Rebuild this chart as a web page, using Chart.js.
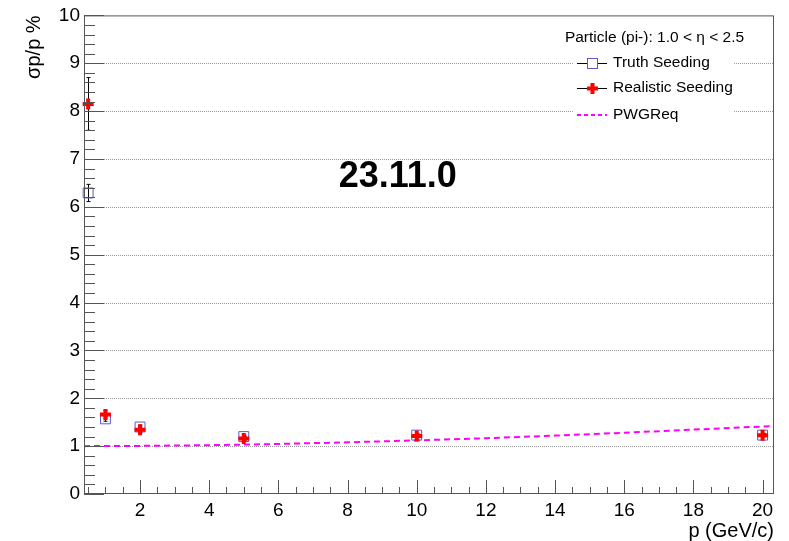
<!DOCTYPE html>
<html>
<head>
<meta charset="utf-8">
<script src="https://cdn.jsdelivr.net/npm/chart.js@4.4.1/dist/chart.umd.min.js"></script>
<style>
html, body { margin: 0; padding: 0; background: #fff; }
#wrap { width: 789px; height: 541px; }
</style>
</head>
<body>
<div id="wrap"><canvas id="canvas" width="789" height="541"></canvas></div>
<script>
// momentum points (GeV/c)
var momentum = [0.5, 1, 2, 5, 10, 20];
// Truth Seeding resolution (%) and errors
var truthRes = [6.29, 1.57, 1.40, 1.20, 1.23, 1.23];
var truthErr = [0.18, 0.05, 0.04, 0.03, 0.03, 0.03];
// Realistic Seeding resolution (%) and errors
var realRes = [8.15, 1.66, 1.34, 1.16, 1.21, 1.23];
var realErr = [0.55, 0.08, 0.06, 0.04, 0.04, 0.04];
// PWG requirement curve
var reqP = [0.38, 2, 4, 6, 8, 10, 12, 14, 16, 18, 20, 20.33];
var reqRes = [1.0, 1.005, 1.02, 1.045, 1.08, 1.12, 1.165, 1.22, 1.28, 1.345, 1.41, 1.42];
// tick labels
var xTicks = [2, 4, 6, 8, 10, 12, 14, 16, 18, 20];
var yTicks = [0, 1, 2, 3, 4, 5, 6, 7, 8, 9, 10];

var FONT = "'Liberation Sans', Arial, sans-serif";
var truthColor = '#5a5acd';
var realColor = '#ff0000';
var reqColor = '#ff00ff';

function pts(xs, ys) {
  var out = [];
  for (var i = 0; i < xs.length; i++) out.push({ x: xs[i], y: ys[i] });
  return out;
}

// ROOT-like frame, ticks, grid, error bars, legend and texts
var rootStyle = {
  id: 'rootStyle',
  beforeDatasetsDraw: function (chart) {
    var ctx = chart.ctx, a = chart.chartArea;
    var xs = chart.scales.x, ys = chart.scales.y;
    ctx.save();
    // dotted horizontal grid
    ctx.strokeStyle = '#999';
    ctx.lineWidth = 1;
    ctx.setLineDash([1, 1]);
    for (var i = 1; i < yTicks.length - 1; i++) {
      var py = Math.round(ys.getPixelForValue(yTicks[i])) + 0.5;
      ctx.beginPath();
      ctx.moveTo(a.left, py);
      ctx.lineTo(a.right, py);
      ctx.stroke();
    }
    ctx.setLineDash([]);
    // error bars
    ctx.strokeStyle = '#000';
    function bars(vals, errs) {
      for (var k = 0; k < momentum.length; k++) {
        var px = Math.round(xs.getPixelForValue(momentum[k])) + 0.5;
        var top = ys.getPixelForValue(vals[k] + errs[k]);
        var bot = ys.getPixelForValue(vals[k] - errs[k]);
        ctx.beginPath();
        ctx.moveTo(px, top); ctx.lineTo(px, bot);
        ctx.moveTo(px - 2, top); ctx.lineTo(px + 2, top);
        ctx.moveTo(px - 2, bot); ctx.lineTo(px + 2, bot);
        ctx.stroke();
      }
    }
    bars(truthRes, truthErr);
    bars(realRes, realErr);
    ctx.restore();
  },
  afterDatasetsDraw: function (chart) {
    var ctx = chart.ctx, a = chart.chartArea;
    var xs = chart.scales.x, ys = chart.scales.y;
    ctx.save();
    // frame
    ctx.strokeStyle = '#555';
    ctx.lineWidth = 1;
    ctx.strokeRect(a.left + 0.5, a.top + 0.5, a.right - a.left - 1, a.bottom - a.top - 1);
    // y ticks: major each 1, minor each 0.2
    ctx.beginPath();
    for (var v = 0; v <= 10.001; v += 0.2) {
      var py = Math.round(ys.getPixelForValue(v)) + 0.5;
      var major = Math.abs(v - Math.round(v)) < 0.01;
      ctx.moveTo(a.left, py);
      ctx.lineTo(a.left + (major ? 20 : 11), py);
    }
    // x ticks: major each 2, minor each 0.5
    for (var u = 0.5; u <= 20.01; u += 0.5) {
      var px = Math.round(xs.getPixelForValue(u)) + 0.5;
      var maj = Math.abs(u / 2 - Math.round(u / 2)) < 0.01;
      ctx.moveTo(px, a.bottom);
      ctx.lineTo(px, a.bottom - (maj ? 14 : 7));
    }
    ctx.stroke();

    // version label
    ctx.fillStyle = '#000';
    ctx.font = 'bold 36px ' + FONT;
    ctx.textAlign = 'center';
    ctx.textBaseline = 'alphabetic';
    ctx.fillText('23.11.0', xs.getPixelForValue(9.45), ys.getPixelForValue(6.41));

    // axis titles
    ctx.font = '20px ' + FONT;
    ctx.textAlign = 'right';
    ctx.fillText('p (GeV/c)', a.right, 537);
    ctx.save();
    ctx.translate(40, a.top);
    ctx.rotate(-Math.PI / 2);
    ctx.textAlign = 'right';
    ctx.fillText('\u03c3p/p %', 0, 0);
    ctx.restore();

    // legend
    ctx.fillStyle = '#fff';
    ctx.fillRect(573, 26, 161, 102);
    ctx.fillStyle = '#000';
    ctx.font = '15.5px ' + FONT;
    ctx.textAlign = 'center';
    ctx.textBaseline = 'middle';
    ctx.fillText('Particle (pi-): 1.0 < \u03b7 < 2.5', 654.5, 38);
    ctx.textAlign = 'left';
    var rows = [63, 88, 115];
    var names = ['Truth Seeding', 'Realistic Seeding', 'PWGReq'];
    for (var r = 0; r < 3; r++) ctx.fillText(names[r], 613, rows[r]);
    // truth symbol
    ctx.strokeStyle = '#000';
    ctx.beginPath();
    ctx.moveTo(577, rows[0] + 0.5); ctx.lineTo(607, rows[0] + 0.5);
    ctx.moveTo(577, rows[1] + 0.5); ctx.lineTo(607, rows[1] + 0.5);
    ctx.stroke();
    ctx.fillStyle = '#fff';
    ctx.fillRect(587.5, rows[0] - 4.5, 10, 10);
    ctx.strokeStyle = truthColor;
    ctx.strokeRect(587.5, rows[0] - 4.5, 10, 10);
    // realistic symbol
    ctx.strokeStyle = realColor;
    ctx.lineWidth = 4;
    ctx.beginPath();
    ctx.moveTo(592.5, rows[1] - 5); ctx.lineTo(592.5, rows[1] + 6);
    ctx.moveTo(587, rows[1] + 0.5); ctx.lineTo(598, rows[1] + 0.5);
    ctx.stroke();
    // requirement symbol
    ctx.strokeStyle = reqColor;
    ctx.lineWidth = 2;
    ctx.setLineDash([4, 3]);
    ctx.beginPath();
    ctx.moveTo(577, rows[2]); ctx.lineTo(607, rows[2]);
    ctx.stroke();
    ctx.restore();
  }
};

Chart.defaults.font.family = FONT;
Chart.defaults.color = '#000';

var config = {
  type: 'scatter',
  data: {
    datasets: [{
      label: 'Realistic Seeding',
      data: pts(momentum, realRes),
      pointStyle: 'cross',
      pointRadius: 5.5,
      pointBorderWidth: 4,
      borderColor: realColor,
      backgroundColor: realColor,
      showLine: false,
      clip: false,
      order: 0
    }, {
      label: 'Truth Seeding',
      data: pts(momentum, truthRes),
      pointStyle: 'rect',
      pointRadius: 7,
      pointBorderWidth: 1,
      borderColor: truthColor,
      backgroundColor: 'rgba(0,0,0,0)',
      showLine: false,
      clip: false,
      order: 1
    }, {
      label: 'PWGReq',
      data: pts(reqP, reqRes),
      showLine: true,
      pointRadius: 0,
      borderColor: reqColor,
      borderWidth: 2,
      borderDash: [6, 4],
      tension: 0,
      order: 2
    }]
  },
  options: {
    responsive: false,
    devicePixelRatio: 1,
    animation: false,
    layout: { padding: { top: 15, right: 15, left: 0, bottom: 0 } },
    plugins: { legend: { display: false }, tooltip: { enabled: false } },
    scales: {
      x: {
        type: 'linear',
        min: 0.38,
        max: 20.33,
        grid: { display: false, drawTicks: false },
        border: { display: false },
        afterBuildTicks: function (scale) {
          scale.ticks = xTicks.map(function (v) { return { value: v }; });
        },
        afterFit: function (scale) { scale.height = 47; },
        ticks: { font: { size: 19 }, padding: 5, maxRotation: 0, autoSkip: false }
      },
      y: {
        type: 'linear',
        min: 0,
        max: 10,
        grid: { display: false, drawTicks: false },
        border: { display: false },
        afterBuildTicks: function (scale) {
          scale.ticks = yTicks.map(function (v) { return { value: v }; });
        },
        afterFit: function (scale) { scale.width = 84; },
        ticks: { font: { size: 19 }, padding: 4, autoSkip: false }
      }
    }
  },
  plugins: [rootStyle]
};

var ctx = document.getElementById('canvas').getContext('2d');
window.myChart = new Chart(ctx, config);
</script>
</body>
</html>
